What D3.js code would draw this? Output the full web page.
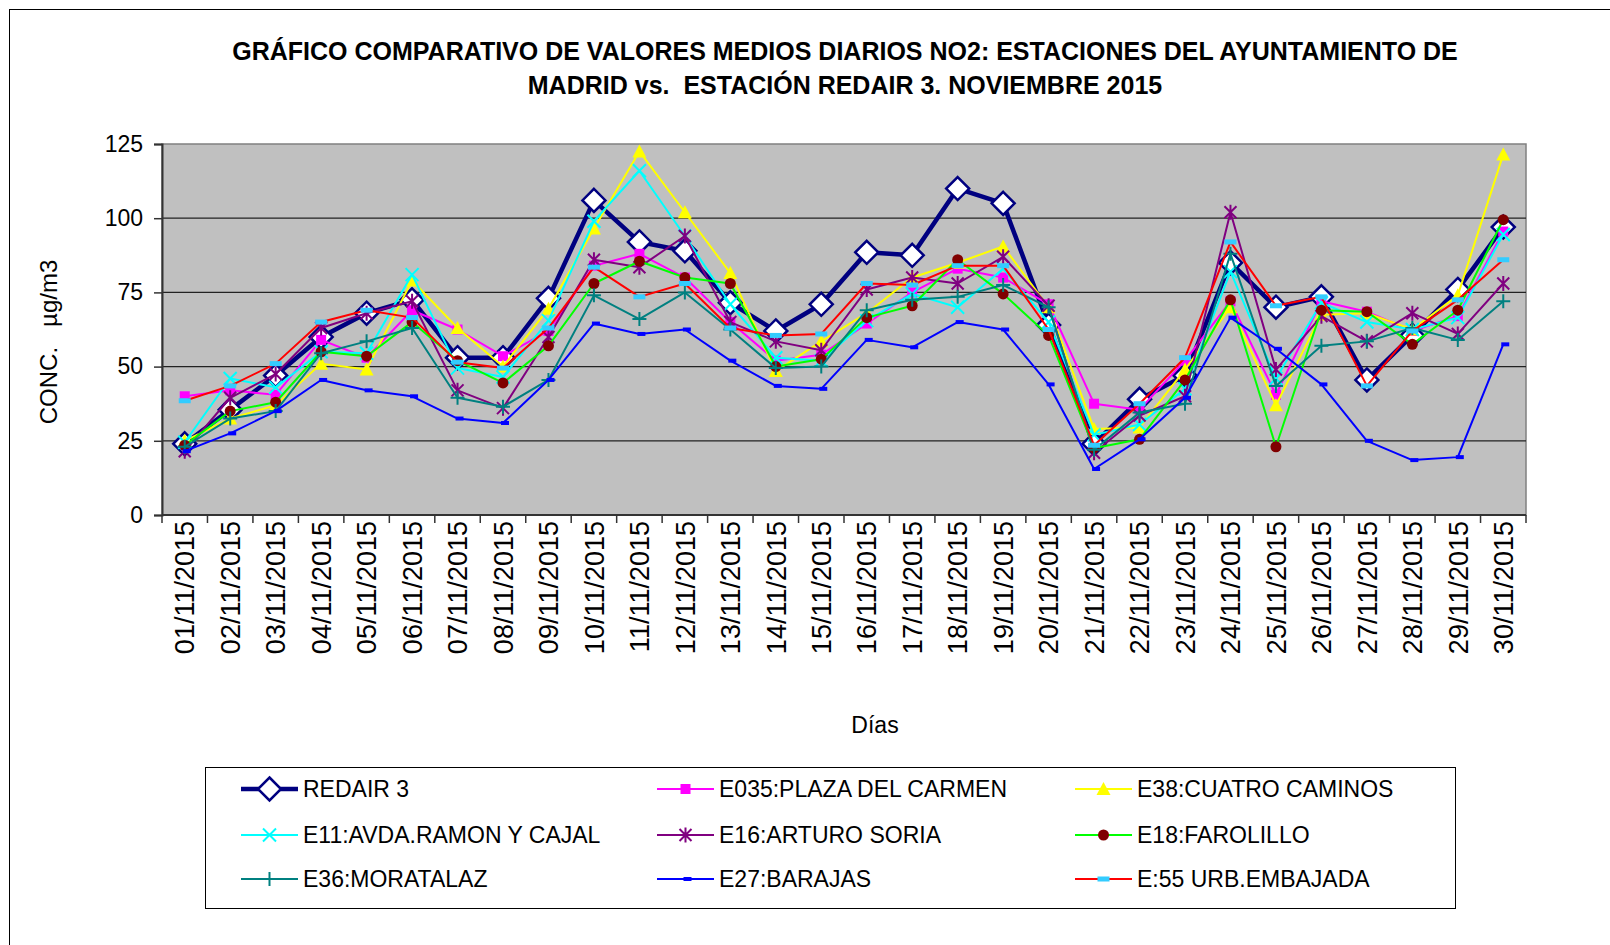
<!DOCTYPE html>
<html>
<head>
<meta charset="utf-8">
<script src="https://cdn.jsdelivr.net/npm/d3@7"></script>
<style>
  body { margin: 0; background: #fff; }
  text { font-family: "Liberation Sans", Arial, sans-serif; }
</style>
</head>
<body>
<svg id="chart" width="1610" height="945"></svg>
<script>
// dias del mes
var dias = ["01/11/2015","02/11/2015","03/11/2015","04/11/2015","05/11/2015","06/11/2015",
  "07/11/2015","08/11/2015","09/11/2015","10/11/2015","11/11/2015","12/11/2015","13/11/2015",
  "14/11/2015","15/11/2015","16/11/2015","17/11/2015","18/11/2015","19/11/2015","20/11/2015",
  "21/11/2015","22/11/2015","23/11/2015","24/11/2015","25/11/2015","26/11/2015","27/11/2015",
  "28/11/2015","29/11/2015","30/11/2015"];

var yTicks = [0, 25, 50, 75, 100, 125];

// valores medios diarios NO2 (µg/m3)
var redair3 = [24, 35.5, 47, 60, 68, 72.5, 53, 53, 73, 106, 92, 89, 71.5, 62, 71, 88.5, 87.5, 110, 105, 64, 24, 39, 47, 85, 70, 73.5, 45.5, 60.5, 76, 97];
var e035 = [40, 42, 40.5, 59, 53, 69, 62.5, 53.5, 62, 84, 88, 80, 65, 52, 54, 64.5, 75, 83, 80, 71, 37.5, 35.5, 52, 72, 40.5, 72, 68.5, 62, 67, 95.5];
var e38 = [25, 32.5, 37, 51, 49, 79, 63, 50, 69.5, 96.5, 122.5, 102, 81.5, 48.5, 58.5, 68, 80, 85, 90.5, 70, 29, 29.5, 49, 70, 37, 67.5, 68, 62.5, 74, 121.5];
var e11 = [24.5, 46, 43, 55, 54.5, 81, 49.5, 46.5, 65.5, 99, 116, 94, 71, 53, 52, 65.5, 74.5, 70, 83, 65, 27, 30.5, 42.5, 82, 46, 71.5, 65, 62.5, 66.5, 94.5];
var e16 = [21.5, 39.5, 47.5, 63, 68, 72, 42, 36, 60, 86, 83.5, 94, 65, 58.5, 55.5, 76, 80, 78, 87, 70.5, 21, 33.5, 40, 102, 49, 67, 58.5, 68, 61, 78];
var e18 = [23.5, 35, 38, 55, 53.5, 65, 52, 44.5, 57, 78, 85.5, 80, 78, 50, 52.5, 66.5, 70.5, 86, 74.5, 60.5, 22.5, 25.5, 45.5, 72.5, 23, 69, 68.5, 57.5, 69, 99.5];
var e36 = [23, 32.5, 35, 54.5, 58.5, 63, 39.5, 36.5, 45.5, 74, 66, 75, 62.5, 49.5, 50, 69, 72.5, 73.5, 77.5, 70, 22, 34.5, 37.5, 88, 43.5, 57, 58.5, 63, 59, 72];
var e27 = [21.5, 27.5, 35, 45.5, 42, 40, 32.5, 31, 45.5, 64.5, 61, 62.5, 52, 43.5, 42.5, 59, 56.5, 65, 62.5, 44, 15.5, 25.5, 39.5, 66.5, 56, 44, 25, 18.5, 19.5, 57.5];
var e55 = [38.5, 43.5, 51, 65, 69, 66.5, 51.5, 49.5, 63, 83.5, 73.5, 78, 63, 60.5, 61, 78, 77.5, 84, 84, 62.5, 23.5, 37.5, 53, 92, 70.5, 73.5, 43.5, 62, 72.5, 86];

var nombres = ["REDAIR 3", "E035:PLAZA DEL CARMEN", "E38:CUATRO CAMINOS",
  "E11:AVDA.RAMON Y CAJAL", "E16:ARTURO SORIA", "E18:FAROLILLO",
  "E36:MORATALAZ", "E27:BARAJAS", "E:55 URB.EMBAJADA"];

var series = [
  {name: nombres[0], values: redair3, line: "#000080", width: 4.5, mark: "diamond", fill: "#fff", stroke: "#000080"},
  {name: nombres[1], values: e035, line: "#FF00FF", width: 2, mark: "square", fill: "#FF00FF", stroke: "#FF00FF"},
  {name: nombres[2], values: e38, line: "#FFFF00", width: 2, mark: "triangle", fill: "#FFFF00", stroke: "#FFFF00"},
  {name: nombres[3], values: e11, line: "#00FFFF", width: 2, mark: "x", fill: "none", stroke: "#00FFFF"},
  {name: nombres[4], values: e16, line: "#800080", width: 2, mark: "star", fill: "none", stroke: "#800080"},
  {name: nombres[5], values: e18, line: "#00FF00", width: 2, mark: "circle", fill: "#800000", stroke: "#800000"},
  {name: nombres[6], values: e36, line: "#008080", width: 2, mark: "plus", fill: "none", stroke: "#008080"},
  {name: nombres[7], values: e27, line: "#0000FF", width: 2, mark: "dash", fill: "#0000FF", stroke: "none"},
  {name: nombres[8], values: e55, line: "#FF0000", width: 2, mark: "bigdash", fill: "#33CCFF", stroke: "none"}
];

var svg = d3.select("#chart");
var plotL = 162, plotR = 1526, plotT = 144, plotB = 515;

// marco exterior
svg.append("rect").attr("x", 9.5).attr("y", 9.5).attr("width", 1660).attr("height", 1000)
  .attr("fill", "none").attr("stroke", "#000").attr("stroke-width", 1);

// titulo
var title = svg.append("text").attr("text-anchor", "middle").attr("font-weight", "bold")
  .attr("font-size", 25).attr("fill", "#000");
title.append("tspan").attr("x", 845).attr("y", 60).text("GRÁFICO COMPARATIVO DE VALORES MEDIOS DIARIOS NO2: ESTACIONES DEL AYUNTAMIENTO DE");
title.append("tspan").attr("x", 845).attr("y", 94).attr("xml:space", "preserve").text("MADRID vs.  ESTACIÓN REDAIR 3. NOVIEMBRE 2015");

var x = d3.scaleBand().domain(dias).range([plotL, plotR]).padding(0);
var y = d3.scaleLinear().domain([0, 125]).range([plotB, plotT]);
var cx = function(i){ return x(dias[i]) + x.bandwidth() / 2; };

// area de trazado
svg.append("rect").attr("x", plotL).attr("y", plotT).attr("width", plotR - plotL).attr("height", plotB - plotT)
  .attr("fill", "#C0C0C0").attr("stroke", "#808080").attr("stroke-width", 1.5);

// rejilla
svg.append("g").selectAll("line").data(yTicks.filter(function(d){ return d > 0 && d < 125; }))
  .enter().append("line")
  .attr("x1", plotL).attr("x2", plotR)
  .attr("y1", function(d){ return y(d); }).attr("y2", function(d){ return y(d); })
  .attr("stroke", "#222").attr("stroke-width", 1.2);

// eje Y
var yAxis = svg.append("g").attr("transform", "translate(" + plotL + ",0)")
  .call(d3.axisLeft(y).tickValues(yTicks).tickSize(8).tickPadding(11));
yAxis.select(".domain").attr("stroke", "#333").attr("stroke-width", 2);
yAxis.selectAll(".tick line").attr("stroke", "#333").attr("stroke-width", 1.5);
yAxis.selectAll("text").attr("font-size", 23).attr("font-family", "Liberation Sans, Arial, sans-serif").attr("fill", "#000");

// eje X: marcas en los limites de cada dia
var xAxis = svg.append("g").attr("transform", "translate(0," + plotB + ")");
xAxis.append("line").attr("x1", plotL).attr("x2", plotR).attr("stroke", "#333").attr("stroke-width", 2);
xAxis.selectAll("line.tk").data(dias.concat(["fin"])).enter().append("line").attr("class", "tk")
  .attr("x1", function(d, i){ return i < dias.length ? x(d) : plotR; })
  .attr("x2", function(d, i){ return i < dias.length ? x(d) : plotR; })
  .attr("y1", 0).attr("y2", 8).attr("stroke", "#333").attr("stroke-width", 1.5);
xAxis.selectAll("text").data(dias).enter().append("text")
  .attr("transform", function(d, i){ return "translate(" + cx(i) + ",6) rotate(-90)"; })
  .attr("text-anchor", "end").attr("dy", "0.36em").attr("font-size", 27).attr("fill", "#000")
  .text(function(d){ return d; });

// titulos de ejes
svg.append("text").attr("transform", "translate(57,342) rotate(-90)").attr("text-anchor", "middle")
  .attr("font-size", 24).attr("xml:space", "preserve").text("CONC.   µg/m3");
svg.append("text").attr("x", 875).attr("y", 733).attr("text-anchor", "middle")
  .attr("font-size", 23).text("Días");

function drawMarker(g, s) {
  if (s.mark === "diamond") {
    g.append("path").attr("d", "M0,-11.5L11.5,0L0,11.5L-11.5,0Z").attr("fill", s.fill).attr("stroke", s.stroke).attr("stroke-width", 2.5);
  } else if (s.mark === "square") {
    g.append("rect").attr("x", -5).attr("y", -5).attr("width", 10).attr("height", 10).attr("fill", s.fill);
  } else if (s.mark === "triangle") {
    g.append("path").attr("d", "M0,-7L7,6L-7,6Z").attr("fill", s.fill);
  } else if (s.mark === "x") {
    g.append("path").attr("d", "M-6.5,-6.5L6.5,6.5M-6.5,6.5L6.5,-6.5").attr("stroke", s.stroke).attr("stroke-width", 2);
  } else if (s.mark === "star") {
    g.append("path").attr("d", "M-6,-6L6,6M-6,6L6,-6M0,-7.5L0,7.5").attr("stroke", s.stroke).attr("stroke-width", 2);
  } else if (s.mark === "circle") {
    g.append("circle").attr("r", 5.5).attr("fill", s.fill);
  } else if (s.mark === "plus") {
    g.append("path").attr("d", "M-7,0L7,0M0,-7L0,7").attr("stroke", s.stroke).attr("stroke-width", 2);
  } else if (s.mark === "dash") {
    g.append("rect").attr("x", -2).attr("y", -2).attr("width", 8).attr("height", 4).attr("fill", s.fill);
  } else if (s.mark === "bigdash") {
    g.append("rect").attr("x", -6).attr("y", -2.5).attr("width", 12).attr("height", 5).attr("fill", s.fill);
  }
}

var line = d3.line().x(function(d, i){ return cx(i); }).y(function(d){ return y(d); });

series.forEach(function(s){
  var g = svg.append("g").attr("class", "serie");
  g.append("path").attr("d", line(s.values)).attr("fill", "none")
    .attr("stroke", s.line).attr("stroke-width", s.width).attr("stroke-linejoin", "round");
  s.values.forEach(function(v, i){
    var m = g.append("g").attr("transform", "translate(" + cx(i) + "," + y(v) + ")");
    drawMarker(m, s);
  });
});

// leyenda
var legend = svg.append("g");
legend.append("rect").attr("x", 205.5).attr("y", 767.5).attr("width", 1250).attr("height", 141)
  .attr("fill", "#fff").attr("stroke", "#000").attr("stroke-width", 1);
var colX = [241, 657, 1075], rowY = [789, 835, 879];
series.forEach(function(s, k){
  var lx = colX[k % 3], ly = rowY[Math.floor(k / 3)];
  var item = legend.append("g");
  item.append("line").attr("x1", lx).attr("x2", lx + 57).attr("y1", ly).attr("y2", ly)
    .attr("stroke", s.line).attr("stroke-width", s.width);
  drawMarker(item.append("g").attr("transform", "translate(" + (lx + 28.5) + "," + ly + ")"), s);
  item.append("text").attr("x", lx + 62).attr("y", ly).attr("dy", "0.35em")
    .attr("font-size", 23).attr("fill", "#000").text(s.name);
});
</script>
</body>
</html>
